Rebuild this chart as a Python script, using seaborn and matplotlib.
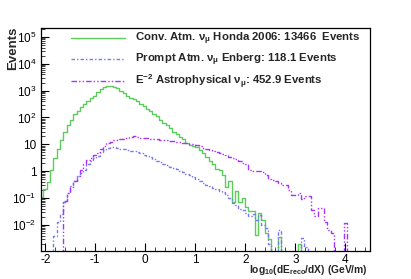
import numpy as np
import pandas as pd
import matplotlib
matplotlib.use("Agg")
import matplotlib.pyplot as plt
import seaborn as sns
from matplotlib.ticker import FuncFormatter, MultipleLocator, LogLocator

sns.set_theme(style="white")
plt.rcParams['font.family'] = ['Liberation Sans', 'DejaVu Sans']
plt.rcParams['mathtext.fontset'] = 'custom'
plt.rcParams['mathtext.rm'] = 'Liberation Sans'
plt.rcParams['mathtext.bf'] = 'Liberation Sans:bold'
plt.rcParams['mathtext.it'] = 'Liberation Sans:italic'
plt.rcParams['axes.unicode_minus'] = False

# histogram binning (log10 dE/dX)
bin_lo, bin_hi, n_bins = -2.1, 4.5, 100

# events per bin
conv_honda = [
    0.11, 0.22, 0.39, 1.1, 3.2, 7, 14, 30, 52, 80,
    130, 180, 240, 315, 420, 530, 650, 860, 1150, 1360,
    1480, 1480, 1400, 1200, 1000, 800, 650, 540, 470, 400,
    330, 260, 205, 172, 140, 115, 82, 65, 51, 39,
    29, 24, 19.5, 15.5, 11.6, 9.2, 8.6, 7.8, 6.1, 4.6,
    3.5, 2.4, 1.8, 1.2, 1.15, 0.75, 0.27, 0.42, 0.07, 0.18,
    0.07, 0.1, 0.045, 0.032, 0.032, 0.0043, 0.029, 0.016, 0.005, 0.003,
    0, 0, 0.0037, 0, 0, 0, 0, 0, 0.002, 0,
    0, 0, 0, 0, 0, 0, 0, 0, 0, 0,
    0, 0, 0, 0, 0, 0, 0, 0, 0, 0,
]
prompt_enberg = [
    0, 0, 0, 0, 0.004, 0.013, 0.025, 0.07, 0.16, 0.28,
    0.42, 0.65, 0.87, 1.16, 1.8, 2.4, 3.0, 3.7, 5.0, 6.1,
    7.1, 7.9, 7.7, 7.4, 6.9, 6.5, 6.1, 5.8, 5.6, 5.0,
    4.6, 4.2, 3.8, 3.3, 2.9, 2.5, 2.2, 1.9, 1.65, 1.5,
    1.35, 1.2, 1.05, 0.9, 0.8, 0.72, 0.6, 0.5, 0.42, 0.37,
    0.32, 0.28, 0.24, 0.21, 0.19, 0.17, 0.13, 0.1, 0.065, 0.055,
    0.04, 0.035, 0.028, 0.022, 0.025, 0.015, 0.024, 0.01, 0.008, 0.002,
    0, 0, 0.0066, 0, 0, 0, 0, 0, 0, 0.0033,
    0.0015, 0, 0, 0, 0, 0, 0, 0, 0, 0,
    0, 0, 0, 0, 0, 0, 0, 0, 0, 0,
]
astro_e2 = [
    0, 0, 0, 0, 0, 0, 0, 0.08, 0.16, 0.26,
    0.45, 0.65, 1.1, 1.9, 2.6, 3.2, 4.0, 4.9, 6.5, 9,
    11.6, 12.5, 14, 14.5, 15.5, 16.5, 18, 19.5, 20, 19,
    18, 17.5, 17, 16.5, 16, 15.5, 15, 14.5, 14, 13.5,
    13, 12.5, 12, 11.5, 11, 10.5, 10, 9.5, 8.5, 7.5,
    6.5, 6, 5.5, 5, 4.9, 4.5, 4, 3.5, 3.2, 2.8,
    2.4, 2.1, 1.9, 1.1, 1.0, 1.0, 1.0, 0.9, 0.7, 0.5,
    0.49, 0.42, 0.37, 0.3, 0.3, 0.2, 0.13, 0.13, 0.155, 0.09,
    0.116, 0.116, 0.037, 0.021, 0.042, 0.042, 0.013, 0.0066, 0.005, 0,
    0, 0, 0.012, 0, 0, 0, 0, 0, 0, 0,
]

labels = [
    r"Conv. Atm. $\mathregular{\nu_{\mu}}$ Honda 2006: 13466  Events",
    r"Prompt Atm. $\mathregular{\nu_{\mu}}$ Enberg: 118.1 Events",
    r"E$^{\mathregular{-2}}$ Astrophysical $\mathregular{\nu_{\mu}}$: 452.9 Events",
]
colors = ["#5ccd5c", "#7a7af0", "#a833ff"]
styles = ["-", (0, (2.5, 1.5, 1, 1.5)), (0, (4, 1.5, 1, 1.5, 1, 1.5))]

edges = np.linspace(bin_lo, bin_hi, n_bins + 1)
centers = 0.5 * (edges[:-1] + edges[1:])
floor = 1e-4  # empty bins drawn on the axis floor, like ROOT

fig = plt.figure(figsize=(4.11, 2.79), dpi=100)
ax = fig.add_axes([0.099, 0.101, 0.801, 0.8])

for vals, lab, col, ls in zip([conv_honda, prompt_enberg, astro_e2], labels, colors, styles):
    df = pd.DataFrame({"x": centers, "events": np.maximum(np.array(vals, dtype=float), floor)})
    sns.histplot(data=df, x="x", weights="events", bins=list(edges), element="step",
                 fill=False, color=col, linestyle=ls, linewidth=1.0, label=lab, ax=ax)

ax.set_yscale("log")
ax.set_xlim(-2.09, 4.49)
ax.set_ylim(1.1e-3, 2.2e5)


def fmt(v, pos):
    n = int(round(np.log10(v)))
    if n == 0:
        return "1"
    if n == 1:
        return "10"
    return r"$\mathregular{10^{%d}}$" % n


ax.yaxis.set_major_locator(LogLocator(base=10, numticks=20))
ax.yaxis.set_minor_locator(LogLocator(base=10, subs=np.arange(2, 10), numticks=20))
ax.yaxis.set_major_formatter(FuncFormatter(fmt))
ax.xaxis.set_major_locator(MultipleLocator(1))
ax.xaxis.set_minor_locator(MultipleLocator(0.2))
ax.tick_params(axis="both", which="major", direction="in", length=6, width=0.8,
               labelsize=8.5, colors="black", pad=3, bottom=True, left=True)
ax.tick_params(axis="x", which="major", pad=2)
ax.tick_params(axis="both", which="minor", direction="in", length=3, width=0.6,
               bottom=True, left=True)
for s in ax.spines.values():
    s.set_color("black")
    s.set_linewidth(0.9)

ax.set(xlabel=None, ylabel=None)
fig.text(368 / 411, 1 - 273 / 279, r"$\mathbf{log_{10}(dE_{reco}/dX)\ (GeV/m)}$",
         fontsize=7.4, ha="right", va="baseline")
fig.text(13 / 411, 1 - 27 / 279, "Events", fontsize=9.5, fontweight="bold",
         rotation=90, ha="center", va="top")

leg = ax.legend(loc="upper left", bbox_to_anchor=(71 / 411, 1 - 31 / 279),
                bbox_transform=fig.transFigure, frameon=False, borderpad=0,
                borderaxespad=0, handlelength=4.7, handletextpad=0.95,
                labelspacing=0.4, prop={"weight": "bold", "size": 8.2})

fig.savefig("out.png", dpi=100, facecolor="white")
